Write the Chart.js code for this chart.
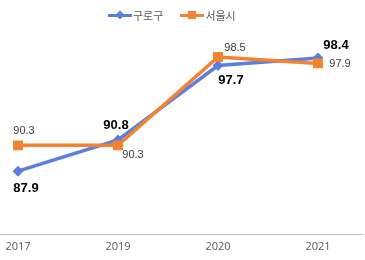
<!DOCTYPE html>
<html>
<head>
<meta charset="utf-8">
<script src="https://cdn.jsdelivr.net/npm/chart.js@4"></script>
<style>
  html, body { margin: 0; padding: 0; background: #fff; }
  #wrap { position: relative; width: 365px; height: 260px; }
  #legend { position: absolute; top: 7px; left: 108px; display: flex; font: 11px "Noto Sans CJK KR", sans-serif; color: #595959; }
  .item { display: flex; align-items: center; margin-right: 17px; }
  .swatch { position: relative; width: 24px; height: 14px; margin-right: 1px; }
  .swatch .ln { position: absolute; left: 0; right: 0; top: 6px; height: 3px; }
  .swatch .mk { position: absolute; left: 8px; top: 3px; width: 8px; height: 8px; }
</style>
</head>
<body>
<div id="wrap">
  <canvas id="chart" width="365" height="260"></canvas>
  <div id="legend"></div>
</div>
<script>
"use strict";
const years = ['2017', '2019', '2020', '2021'];
const guroValues = [87.9, 90.8, 97.7, 98.4];
const seoulValues = [90.3, 90.3, 98.5, 97.9];
const seriesNames = ['구로구', '서울시'];

// label offsets from each point (dx, dy)
const guroLabelOffsets = [[8, 17], [-2, -15], [13, 15], [18, -13]];
const seoulLabelOffsets = [[6, -14], [15, 10], [17, -9], [22, 1]];

const blue = '#5b7fde';
const orange = '#f5822f';

// HTML legend: line with marker, then name
const legend = document.getElementById('legend');
[[seriesNames[0], blue, true], [seriesNames[1], orange, false]].forEach(function(item) {
    const el = document.createElement('div');
    el.className = 'item';
    const sw = document.createElement('div');
    sw.className = 'swatch';
    const ln = document.createElement('div');
    ln.className = 'ln';
    ln.style.background = item[1];
    const mk = document.createElement('div');
    mk.className = 'mk';
    mk.style.background = item[1];
    if (item[2]) mk.style.transform = 'rotate(45deg) scale(0.8)';
    sw.appendChild(ln);
    sw.appendChild(mk);
    const txt = document.createElement('span');
    txt.textContent = item[0];
    el.appendChild(sw);
    el.appendChild(txt);
    legend.appendChild(el);
});

const valueLabels = {
    id: 'valueLabels',
    afterDatasetsDraw(chart) {
        const ctx = chart.ctx;
        ctx.save();
        ctx.textAlign = 'center';
        ctx.textBaseline = 'middle';
        chart.data.datasets.forEach(function(ds, di) {
            const meta = chart.getDatasetMeta(di);
            meta.data.forEach(function(pt, i) {
                const off = ds.labelOffsets[i];
                ctx.font = ds.labelFont;
                ctx.fillStyle = ds.labelColor;
                ctx.fillText(ds.data[i].y.toFixed(1), pt.x + off[0], pt.y + off[1]);
            });
        });
        ctx.restore();
    }
};

new Chart(document.getElementById('chart'), {
    type: 'line',
    data: {
        datasets: [{
            label: seriesNames[0],
            data: guroValues.map((v, i) => ({ x: i, y: v })),
            borderColor: blue,
            backgroundColor: blue,
            borderWidth: 3.5,
            pointStyle: 'rectRot',
            pointRadius: 5.5,
            pointBorderWidth: 0,
            order: 1,
            labelOffsets: guroLabelOffsets,
            labelFont: 'bold 13px "Liberation Sans", Arial, sans-serif',
            labelColor: '#000'
        }, {
            label: seriesNames[1],
            data: seoulValues.map((v, i) => ({ x: i, y: v })),
            borderColor: orange,
            backgroundColor: orange,
            borderWidth: 3.5,
            pointStyle: 'rect',
            pointRadius: 7,
            pointBorderWidth: 0,
            order: 0,
            labelOffsets: seoulLabelOffsets,
            labelFont: '11px "Liberation Sans", Arial, sans-serif',
            labelColor: '#404040'
        }]
    },
    options: {
        responsive: false,
        animation: false,
        events: [],
        layout: { autoPadding: false, padding: { top: 30, right: 3, left: 0, bottom: 2 } },
        plugins: {
            legend: { display: false },
            tooltip: { enabled: false }
        },
        scales: {
            x: {
                type: 'linear',
                min: -0.18,
                max: 3.44,
                afterBuildTicks: function(scale) {
                    scale.ticks = years.map((y, i) => ({ value: i }));
                },
                afterFit: function(scale) {
                    scale.paddingLeft = 0;
                    scale.paddingRight = 0;
                },
                grid: { display: false, drawTicks: false },
                border: { display: true, color: '#bfbfbf', width: 1 },
                ticks: {
                    padding: 5,
                    color: '#595959',
                    font: { family: '"Open Sans", sans-serif', size: 11 },
                    callback: (v) => years[v]
                }
            },
            y: {
                display: false,
                min: 82,
                max: 101
            }
        }
    },
    plugins: [valueLabels]
});
</script>
</body>
</html>
